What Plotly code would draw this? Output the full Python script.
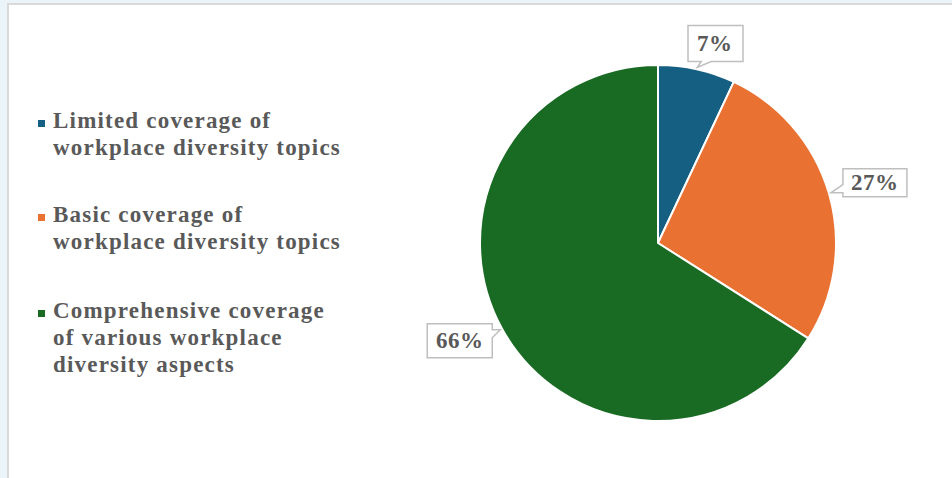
import math
import plotly.graph_objects as go

# Survey result: depth of workplace-diversity coverage
categories = [
    "Limited coverage of<br>workplace diversity topics",
    "Basic coverage of<br>workplace diversity topics",
    "Comprehensive coverage<br>of various workplace<br>diversity aspects",
]
shares = [7, 27, 66]
slice_colors = ["#155f82", "#e97132", "#196b24"]

W, H = 952, 478
CX, CY, R = 658, 243, 178          # pie centre / radius in pixels
TEXT_GREY = "#595959"
FONT = "Liberation Serif"


def px(x):
    return x / W


def py(y):
    return 1 - y / H


def spaced(text, gap):
    return f'<span style="letter-spacing:{gap}px">{text}</span>'


fig = go.Figure(
    go.Pie(
        labels=[c.replace("<br>", " ") for c in categories],
        values=shares,
        sort=False,
        direction="clockwise",
        rotation=0,
        marker=dict(colors=slice_colors, line=dict(color="white", width=2)),
        textinfo="none",
        hoverinfo="label+percent",
        showlegend=False,
        domain=dict(x=[px(CX - R), px(CX + R)], y=[py(CY + R), py(CY - R)]),
    )
)

shapes = [
    # white card with a light grey frame
    dict(type="rect", xref="paper", yref="paper", layer="below",
         x0=px(8), x1=px(W + 20), y0=py(H + 20), y1=py(4),
         fillcolor="white", line=dict(color="#d9d9d9", width=2)),
]
annotations = []

# callout data labels
box_sizes = [(55, 36), (64, 28), (65, 34)]
nudges = [(12, 4), (6, 1), (-4, -9)]
total = sum(shares)
cum = 0
for v, (bw, bh), (nx, ny) in zip(shares, box_sizes, nudges):
    theta = math.radians((cum + v / 2) / total * 360)
    cum += v
    ux, uy = math.sin(theta), -math.cos(theta)
    hw, hh = bw / 2, bh / 2
    dist = 185 + hw * abs(ux) + hh * abs(uy)
    bx, by = CX + ux * dist + nx, CY + uy * dist + ny
    tx, ty = CX + ux * (R + 2), CY + uy * (R + 2)
    left, right, top, bot = bx - hw, bx + hw, by - hh, by + hh
    dx, dy = tx - bx, ty - by
    pts = [(left, top)]
    # insert pointer on the edge facing the slice
    if abs(dx) / hw > abs(dy) / hh:
        if dx > 0:
            yb = min(max(ty, top + 4), bot - 12)
            pts += [(right, top), (right, yb), (tx, ty), (right, yb + 8), (right, bot), (left, bot)]
        else:
            yb = min(max(ty, top + 12), bot - 4)
            pts += [(right, top), (right, bot), (left, bot), (left, yb), (tx, ty), (left, yb - 8)]
    else:
        if dy > 0:
            xb = min(max(tx, left + 4), right - 12)
            pts += [(right, top), (right, bot), (xb + 14, bot), (tx, ty), (xb + 4, bot), (left, bot)]
        else:
            xb = min(max(tx, left + 12), right - 4)
            pts = [(left, top), (xb - 12, top), (tx, ty), (xb - 4, top), (right, top), (right, bot), (left, bot)]
    path = "M " + " L ".join(f"{px(x):.5f},{py(y):.5f}" for x, y in pts) + " Z"
    shapes.append(dict(type="path", xref="paper", yref="paper", path=path,
                       fillcolor="white", line=dict(color="#bfbfbf", width=1.5)))
    annotations.append(dict(x=px(bx), y=py(by), xref="paper", yref="paper",
                            text=spaced(f"{v}%", 0.5), showarrow=False,
                            xanchor="center", yanchor="middle",
                            font=dict(family=FONT, size=23, color=TEXT_GREY, weight="bold")))

# legend drawn at the left of the card, one annotation per text line
LEG_SIZE = 23
LINE_STEP = 27
first_baselines = [127, 221, 317]
for cat, col, base in zip(categories, slice_colors, first_baselines):
    shapes.append(dict(type="rect", xref="paper", yref="paper",
                       x0=px(38), x1=px(45), y0=py(base), y1=py(base - 7),
                       fillcolor=col, line=dict(width=0)))
    for i, line in enumerate(cat.split("<br>")):
        yb = base + 1 + i * LINE_STEP
        annotations.append(dict(x=px(51), y=py(yb - 0.3375 * LEG_SIZE), xref="paper", yref="paper",
                                text=spaced(line, 1.2), showarrow=False,
                                xanchor="left", yanchor="middle", align="left",
                                font=dict(family=FONT, size=LEG_SIZE, color=TEXT_GREY, weight="bold")))

fig.update_layout(
    width=W, height=H,
    margin=dict(l=0, r=0, t=0, b=0),
    paper_bgcolor="#eaf4f9",
    plot_bgcolor="white",
    shapes=shapes,
    annotations=annotations,
)

fig.write_html("out.html")
